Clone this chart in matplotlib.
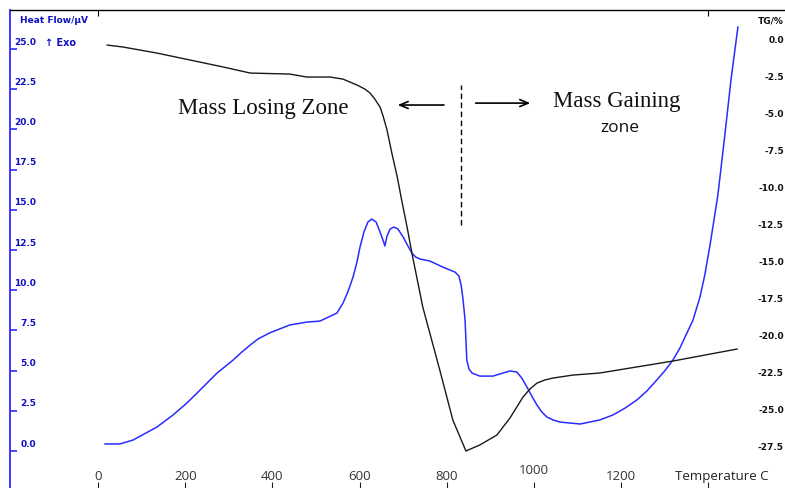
import matplotlib.pyplot as plt
import matplotlib.transforms as mtransforms
import numpy as np

# heat flow curve (blue, left axis): temperature in C, heat flow in uV
hf_temp = [16, 50, 80, 135, 172, 204, 234, 273, 310, 330, 349, 367, 394, 440, 479, 509, 548,
           562, 573, 585, 594, 601, 610, 619, 628, 638, 647, 656, 658, 663, 670, 679, 688,
           700, 711, 720, 729, 739, 761, 791, 819, 828, 833, 837, 842, 844, 846, 851, 858,
           876, 906, 929, 945, 961, 972, 984, 995, 1007, 1018, 1030, 1044, 1060, 1106, 1151,
           1181, 1209, 1236, 1259, 1282, 1300, 1319, 1335, 1351, 1365, 1381, 1392, 1404,
           1422, 1438, 1452, 1468]
hf_vals = [0.44, 0.44, 0.68, 1.49, 2.24, 2.99, 3.79, 4.85, 5.66, 6.16, 6.59, 6.97, 7.35, 7.84,
           8.02, 8.08, 8.58, 9.20, 9.89, 10.82, 11.75, 12.69, 13.62, 14.24, 14.43, 14.24,
           13.62, 12.94, 12.75, 13.37, 13.81, 13.93, 13.81, 13.31, 12.75, 12.31, 12.06, 11.94,
           11.82, 11.44, 11.13, 10.88, 10.32, 9.51, 8.15, 6.90, 5.66, 5.10, 4.85, 4.66, 4.66,
           4.85, 4.98, 4.91, 4.54, 3.98, 3.42, 2.86, 2.43, 2.11, 1.93, 1.80, 1.68, 1.93, 2.24,
           2.67, 3.17, 3.73, 4.42, 4.98, 5.66, 6.41, 7.34, 8.15, 9.58, 10.95, 12.81, 15.92,
           19.65, 23.07, 26.37]

# TG curve (black, right axis): temperature in C, mass change in %
tg_temp = [21, 57, 135, 211, 287, 349, 440, 479, 532, 562, 594, 612, 624, 635, 647, 654, 663,
           674, 686, 697, 709, 720, 745, 784, 814, 844, 876, 915, 945, 975, 991, 1007, 1025,
           1044, 1089, 1151, 1319, 1466]
tg_vals = [-0.34, -0.47, -0.88, -1.35, -1.82, -2.23, -2.30, -2.50, -2.50, -2.64, -3.04, -3.31,
           -3.58, -3.99, -4.53, -5.14, -6.08, -7.64, -9.19, -10.88, -12.64, -14.39, -18.04,
           -22.30, -25.68, -27.77, -27.36, -26.69, -25.54, -24.12, -23.58, -23.18, -22.97,
           -22.84, -22.64, -22.5, -21.69, -20.88]

x_ticks = [0, 200, 400, 600, 800, 1000, 1200, 1400]
x_labels = ['0', '200', '400', '600', '800', '1000', '1200', '']
hf_ticks = np.arange(0, 25.1, 2.5)
tg_ticks = np.arange(0, -27.6, -2.5)

blue = '#2b2bff'
label_blue = '#1010c0'

fig = plt.figure(figsize=(7.85, 4.88), dpi=100)
ax = fig.add_axes([10 / 785, 0, 775 / 785, 478 / 488])
ax2 = ax.twinx()

ax.set_xlim(-202, 1576)
ax.set_ylim(-2.30, 27.43)
ax2.set_ylim(-30.27, 2.03)

ax.plot(hf_temp, hf_vals, color=blue, lw=1.1)
ax2.plot(tg_temp, tg_vals, color='#1a1a1a', lw=1.0)

for s in ['right', 'bottom']:
    ax.spines[s].set_visible(False)
for s in ax2.spines.values():
    s.set_visible(False)
ax.spines['left'].set_color(blue)
ax.spines['left'].set_linewidth(1.3)
ax.spines['top'].set_linewidth(1.0)

# bottom x ticks, labels drawn above them
ax.set_xticks(x_ticks)
ax.tick_params(axis='x', direction='in', length=4, labelbottom=False, color='#222222')
ax.xaxis.get_major_ticks()[2].tick1line.set_color('red')
top = ax.secondary_xaxis('top')
top.set_xticks([0, 1400])
top.tick_params(direction='in', length=4, labeltop=False)
top.spines['top'].set_visible(False)

xtr = mtransforms.blended_transform_factory(ax.transData, ax.transAxes)
for t, lab in zip(x_ticks, x_labels):
    yy = 0.036 if t == 1000 else 0.025
    ax.text(t, yy, lab, transform=xtr, ha='center', va='center',
            fontsize=9.5, color='#333333', family='Open Sans')
ax.text(0.858, 0.025, 'Temperature C', transform=ax.transAxes, ha='left', va='center',
        fontsize=9.5, color='#222222', family='Open Sans')

# left axis
ax.set_yticks(hf_ticks)
ax.tick_params(axis='y', direction='in', length=5, color=blue, width=1.2, labelleft=False)
ytr = mtransforms.blended_transform_factory(ax.transAxes, ax.transData)
for v in hf_ticks:
    ax.text(0.0335, v + 0.15, f'{v:.1f}', transform=ytr, ha='right', va='bottom',
            fontsize=6.5, fontweight='bold', color=label_blue)
ax.text(0.013, 0.977, 'Heat Flow/µV', transform=ax.transAxes, ha='left', va='center',
        fontsize=6.5, fontweight='bold', color=label_blue)
ax.text(0.045, 0.931, '↑ Exo', transform=ax.transAxes, ha='left', va='center',
        fontsize=7, fontweight='bold', color=label_blue)

# right axis labels
ax2.set_yticks([])
ytr2 = mtransforms.blended_transform_factory(ax2.transAxes, ax2.transData)
for v in tg_ticks:
    ax2.text(0.9985, v, f'{v:.1f}', transform=ytr2, ha='right', va='center',
             fontsize=6.5, fontweight='bold', color='#111111')
ax2.text(0.9985, 0.977, 'TG/%', transform=ax2.transAxes, ha='right', va='center',
         fontsize=6.5, fontweight='bold', color='#111111')

# zone annotations
ax.text(378, 21.33, 'Mass Losing Zone', ha='center', va='center', fontsize=16.5,
        family='Liberation Serif', color='#111111')
ax.text(1044, 21.77, 'Mass Gaining', ha='left', va='center', fontsize=16.5,
        family='Liberation Serif', color='#111111')
ax.text(1197, 20.09, 'zone', ha='center', va='center', fontsize=12.5,
        family='Open Sans', color='#111111')
ax.annotate('', xy=(681, 21.52), xytext=(800, 21.52),
            arrowprops=dict(arrowstyle='->,head_length=0.6,head_width=0.25', lw=1.2, color='black'))
ax.annotate('', xy=(998, 21.64), xytext=(860, 21.64),
            arrowprops=dict(arrowstyle='->,head_length=0.6,head_width=0.25', lw=1.2, color='black'))
ax.plot([833, 833], [14.05, 22.76], color='black', lw=1.0, ls=(0, (4, 2.5)))

fig.savefig('out.png', dpi=100)
